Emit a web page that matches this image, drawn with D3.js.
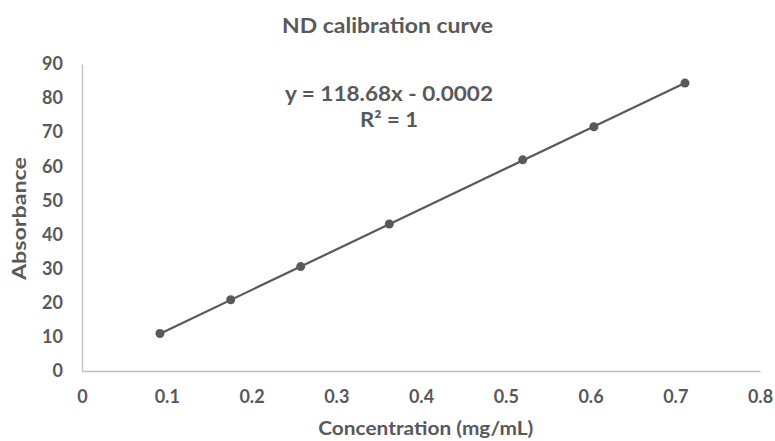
<!DOCTYPE html>
<html>
<head>
<meta charset="utf-8">
<script src="https://cdn.jsdelivr.net/npm/d3@7"></script>
<style>
    body { margin: 0; background: #fff; }
    text { font-family: Lato, "Open Sans", sans-serif; font-weight: bold; fill: #595959; }
</style>
</head>
<body>
<div id="chart"></div>
<script>
// data
const concentration = [0.092, 0.1755, 0.258, 0.3626, 0.520, 0.604, 0.7115];
const absorbance = [11.0, 20.9, 30.6, 43.1, 61.9, 71.6, 84.4];
const xTicks = [0, 0.1, 0.2, 0.3, 0.4, 0.5, 0.6, 0.7, 0.8];
const yTicks = [0, 10, 20, 30, 40, 50, 60, 70, 80, 90];
const slope = 118.68;
const intercept = -0.0002;

const width = 775, height = 441;
const margin = { top: 64, right: 15, bottom: 70, left: 82 };

const svg = d3.select("#chart").append("svg")
    .attr("width", width)
    .attr("height", height);

const xScale = d3.scaleLinear()
    .domain([0, 0.8])
    .range([margin.left, width - margin.right]);

const yScale = d3.scaleLinear()
    .domain([0, 90])
    .range([height - margin.bottom, margin.top]);

// axes
const xAxis = d3.axisBottom(xScale)
    .tickValues(xTicks)
    .tickSize(0)
    .tickPadding(19)
    .tickFormat(d => d === 0 ? "0" : d3.format(".1f")(d));

const yAxis = d3.axisLeft(yScale)
    .tickValues(yTicks)
    .tickSize(0)
    .tickPadding(19);

const gx = svg.append("g")
    .attr("transform", `translate(0,${yScale(0)})`)
    .call(xAxis);

const gy = svg.append("g")
    .attr("transform", `translate(${xScale(0)},0)`)
    .call(yAxis);

[gx, gy].forEach(g => {
    g.select(".domain").attr("stroke", "#bfbfbf").attr("stroke-width", 1.3);
    g.selectAll("text")
        .style("font-size", "18px")
        .style("font-family", "Lato, 'Open Sans', sans-serif")
        .attr("fill", "#595959");
});

// trendline from the regression
const xExtent = d3.extent(concentration);
const trend = xExtent.map(x => [x, slope * x + intercept]);

svg.append("path")
    .datum(trend)
    .attr("fill", "none")
    .attr("stroke", "#595959")
    .attr("stroke-width", 2.2)
    .attr("d", d3.line().x(d => xScale(d[0])).y(d => yScale(d[1])));

// markers
svg.append("g")
    .selectAll("circle")
    .data(concentration.map((c, i) => [c, absorbance[i]]))
    .join("circle")
    .attr("cx", d => xScale(d[0]))
    .attr("cy", d => yScale(d[1]))
    .attr("r", 4.5)
    .attr("fill", "#595959");

// title
svg.append("text")
    .attr("x", 387.5)
    .attr("y", 32.5)
    .attr("text-anchor", "middle")
    .attr("textLength", 211)
    .attr("lengthAdjust", "spacingAndGlyphs")
    .style("font-size", "20px")
    .text("ND calibration curve");

// equation
svg.append("text")
    .attr("x", 389)
    .attr("y", 100.7)
    .attr("text-anchor", "middle")
    .attr("textLength", 208)
    .attr("lengthAdjust", "spacingAndGlyphs")
    .style("font-size", "20px")
    .text(`y = ${slope}x - ${Math.abs(intercept)}`);

svg.append("text")
    .attr("x", 389)
    .attr("y", 126.7)
    .attr("text-anchor", "middle")
    .attr("textLength", 58)
    .attr("lengthAdjust", "spacingAndGlyphs")
    .style("font-size", "20px")
    .text("R² = 1");

// axis titles
svg.append("text")
    .attr("x", 425.8)
    .attr("y", 435)
    .attr("text-anchor", "middle")
    .attr("textLength", 215)
    .attr("lengthAdjust", "spacingAndGlyphs")
    .style("font-size", "18.5px")
    .text("Concentration (mg/mL)");

svg.append("text")
    .attr("transform", "translate(25.5,218.5) rotate(-90)")
    .attr("text-anchor", "middle")
    .attr("textLength", 123)
    .attr("lengthAdjust", "spacingAndGlyphs")
    .style("font-size", "18px")
    .text("Absorbance");
</script>
</body>
</html>
